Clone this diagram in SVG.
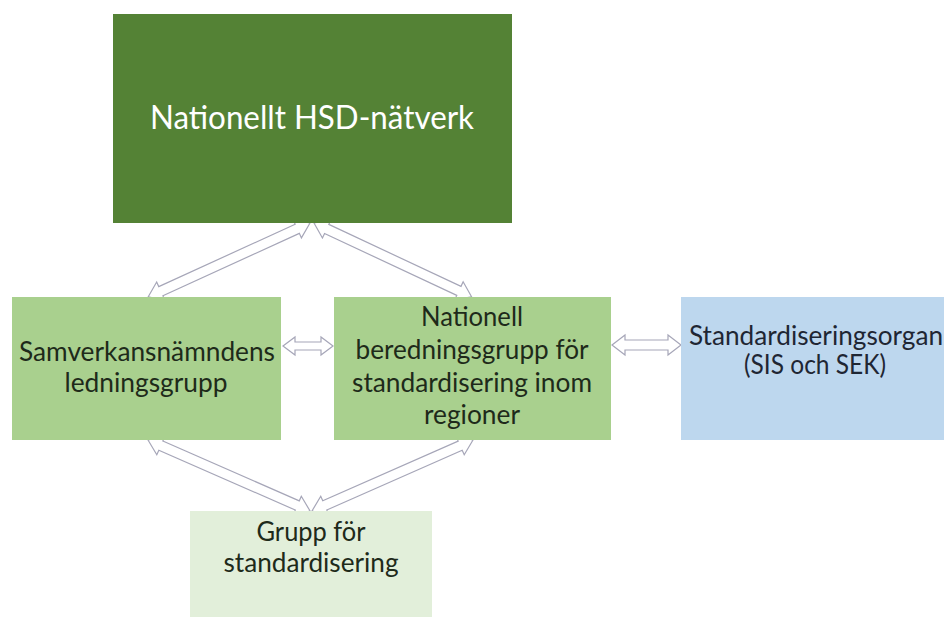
<svg xmlns="http://www.w3.org/2000/svg" width="944" height="617" viewBox="0 0 944 617">
<style>
.t{font-family:Lato,"Open Sans","Liberation Sans",sans-serif;font-size:26px;fill:#1e2a1a;text-anchor:middle}
.b{fill:#1f2633}
.arr{fill:#ffffff;stroke:#a6a6b8;stroke-width:1.2;stroke-linejoin:miter}
</style>
<rect width="944" height="617" fill="#ffffff"/>
<g id="connectors">
<path class="arr" transform="translate(310,223) rotate(155.45)" d="M0,0 L14,-10 L14,-5 L164,-5 L164,-10 L178,0 L164,10 L164,5 L14,5 L14,10 Z"/>
<path class="arr" transform="translate(314,223) rotate(25.1)" d="M0,0 L14,-10 L14,-5 L160,-5 L160,-10 L174,0 L160,10 L160,5 L14,5 L14,10 Z"/>
<path class="arr" transform="translate(148,440) rotate(23.67)" d="M0,0 L14,-10 L14,-5 L163,-5 L163,-10 L177,0 L163,10 L163,5 L14,5 L14,10 Z"/>
<path class="arr" transform="translate(473,440) rotate(156.2)" d="M0,0 L14,-10 L14,-5 L162,-5 L162,-10 L176,0 L162,10 L162,5 L14,5 L14,10 Z"/>
<path class="arr" transform="translate(283,346)" d="M0,0 L12,-9 L12,-4 L38,-4 L38,-9 L50,0 L38,9 L38,4 L12,4 L12,9 Z"/>
<path class="arr" transform="translate(612,345)" d="M0,0 L13,-10 L13,-5 L56,-5 L56,-10 L69,0 L56,10 L56,5 L13,5 L13,10 Z"/>
</g>
<g id="hsd">
<rect x="113" y="14" width="399" height="209" fill="#548235"/>
<text class="t" x="312" y="129" style="font-size:32px;fill:#ffffff" textLength="324" lengthAdjust="spacingAndGlyphs">Nationellt HSD-nätverk</text>
</g>
<g id="samverkan">
<rect x="12" y="297" width="269" height="143" fill="#a9d08e"/>
<text class="t" x="147" y="361" textLength="256" lengthAdjust="spacingAndGlyphs">Samverkansnämndens</text>
<text class="t" x="146" y="392" textLength="163" lengthAdjust="spacingAndGlyphs">ledningsgrupp</text>
</g>
<g id="beredning">
<rect x="334" y="297" width="277" height="143" fill="#a9d08e"/>
<text class="t" x="472" y="326" textLength="102" lengthAdjust="spacingAndGlyphs">Nationell</text>
<text class="t" x="472" y="359" textLength="233" lengthAdjust="spacingAndGlyphs">beredningsgrupp för</text>
<text class="t" x="472" y="392" textLength="240" lengthAdjust="spacingAndGlyphs">standardisering inom</text>
<text class="t" x="472" y="424" textLength="96" lengthAdjust="spacingAndGlyphs">regioner</text>
</g>
<g id="organ">
<rect x="681" y="297" width="263" height="143" fill="#bdd7ee"/>
<text class="t b" x="816" y="345" textLength="254" lengthAdjust="spacingAndGlyphs">Standardiseringsorgan</text>
<text class="t b" x="815" y="374" textLength="142" lengthAdjust="spacingAndGlyphs">(SIS och SEK)</text>
</g>
<g id="grupp">
<rect x="190" y="511" width="242" height="106" fill="#e2efda"/>
<text class="t" x="311" y="541" textLength="109" lengthAdjust="spacingAndGlyphs">Grupp för</text>
<text class="t" x="311" y="572" textLength="175" lengthAdjust="spacingAndGlyphs">standardisering</text>
</g>
</svg>
